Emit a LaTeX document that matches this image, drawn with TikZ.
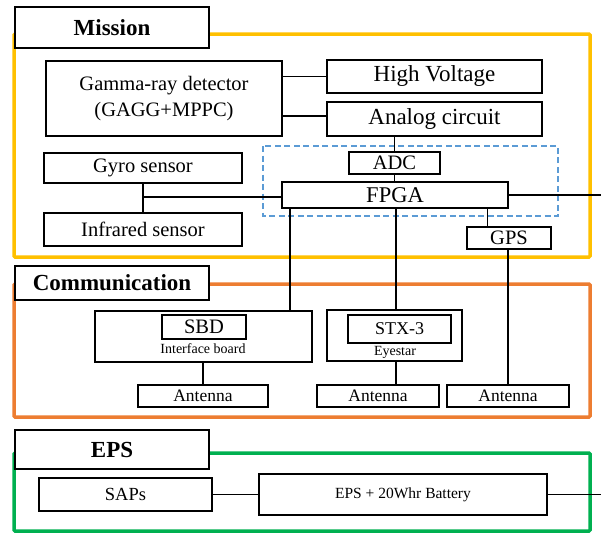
\documentclass[tikz,border=0pt]{standalone}
\usepackage{fontspec}
\setmainfont{Liberation Serif}
\usetikzlibrary{calc}
\definecolor{missionyellow}{HTML}{FFC000}
\definecolor{commorange}{HTML}{ED7D31}
\definecolor{epsgreen}{HTML}{00B050}
\definecolor{boardblue}{HTML}{5B9BD5}
\tikzset{
  unit/.style={draw, line width=1.8pt, fill=white, inner sep=0pt, font=\fontsize{20.5}{26}\selectfont},
  big/.style={unit, font=\fontsize{23}{26}\selectfont},
  title/.style={unit, font=\fontsize{23}{26}\selectfont\bfseries},
  small/.style={unit, font=\fontsize{17.5}{20}\selectfont},
  note/.style={inner sep=0pt, font=\fontsize{14}{16}\selectfont},
  wire/.style={line width=1.4pt},
  frame/.style={line width=3.5pt, rounded corners=1pt},
}
\begin{document}
\begin{tikzpicture}[x=1pt, y=-1pt]
    \useasboundingbox (0,0) rectangle (601,533);
    \draw[frame, missionyellow] (14,34) rectangle (590,257);
    \draw[frame, commorange] (14,284) rectangle (590,417);
    \draw[frame, epsgreen] (14,453) rectangle (590,531);
    \draw[boardblue, line width=1.8pt, dash pattern=on 6pt off 3.5pt] (263,146) rectangle (558,216);

    \node[title, minimum width=194pt, minimum height=41pt] (mission) at (112,27.5) {Mission};
    \node[title, minimum width=194pt, minimum height=34pt] (comm) at (112,283) {Communication};
    \node[title, minimum width=194pt, minimum height=39pt] (eps) at (112,449.5) {EPS};

    \node[unit, minimum width=236pt, minimum height=75pt, align=center] (gamma) at (164,98.5) {Gamma-ray detector\\(GAGG+MPPC)};
    \node[big, minimum width=215pt, minimum height=33pt] (hv) at (434.5,76.5) {High Voltage};
    \node[big, minimum width=215pt, minimum height=34pt] (analog) at (434.5,119) {Analog circuit};
    \node[unit, minimum width=91pt, minimum height=22pt] (adc) at (394.5,163) {ADC};
    \node[unit, minimum width=226pt, minimum height=26pt, font=\fontsize{22.5}{26}\selectfont] (fpga) at (395,195) {FPGA};
    \node[unit, minimum width=84pt, minimum height=22pt] (gps) at (509,238) {GPS};
    \node[unit, minimum width=198pt, minimum height=30pt] (gyro) at (143,168) {Gyro sensor};
    \node[unit, minimum width=198pt, minimum height=33pt] (infrared) at (143,229.5) {Infrared sensor};

    \node[unit, minimum width=217pt, minimum height=51pt] (sbdboard) at (203.5,336.5) {};
    \node[unit, minimum width=84pt, minimum height=24pt] (sbd) at (204,327) {SBD};
    \node[note] (sbdnote) at (203,349) {Interface board};
    \node[unit, minimum width=135pt, minimum height=51pt] (stxboard) at (394.5,335.5) {};
    \node[unit, minimum width=103pt, minimum height=28pt, font=\fontsize{18}{20}\selectfont] (stx) at (399.5,329) {STX-3};
    \node[note] (stxnote) at (395,352) {Eyestar};
    \node[small, minimum width=130pt, minimum height=22pt] (antA) at (203,396) {Antenna};
    \node[small, minimum width=122pt, minimum height=22pt] (antB) at (378,396) {Antenna};
    \node[small, minimum width=122pt, minimum height=22pt] (antC) at (508,396) {Antenna};

    \node[unit, minimum width=173pt, minimum height=33pt, font=\fontsize{18.5}{20}\selectfont] (saps) at (125.5,494.5) {SAPs};
    \node[unit, minimum width=288pt, minimum height=41pt, font=\fontsize{15.5}{18}\selectfont] (battery) at (403,494.5) {EPS + 20Whr Battery};

    \coordinate (busR) at (601,195);
    \coordinate (busB) at (601,494.5);
    \coordinate (gyroJ) at (gyro.south |- 0,197);
    \coordinate (gpsJ) at ($(gps.north west)!0.25!(gps.north east)$);

    \draw[wire] (gamma.east |- hv.west) -- (hv.west);
    \draw[wire] (gamma.east |- 0,116) -- (analog.west |- 0,116);
    \draw[wire] (adc.north |- analog.south) -- (adc.north);
    \draw[wire] (adc.south) -- (adc.south |- fpga.north);
    \draw[wire] (fpga.east) -- (busR);
    \draw[wire] (gpsJ |- fpga.south) -- (gpsJ);
    \draw[wire] (gyro.south) -- (infrared.north);
    \draw[wire] (gyroJ) -- (fpga.west |- gyroJ);
    \draw[wire] (290,0 |- fpga.south) -- (290,0 |- sbdboard.north);
    \draw[wire] (fpga.south -| 396,0) -- (stxboard.north -| 396,0);
    \draw[wire] (gps.south -| antC.north) -- (antC.north);
    \draw[wire] (sbdboard.south -| antA.north) -- (antA.north);
    \draw[wire] (stxboard.south -| 396,0) -- (antB.north -| 396,0);
    \draw[wire] (saps.east) -- (battery.west);
    \draw[wire] (battery.east) -- (busB);
\end{tikzpicture}
\end{document}
